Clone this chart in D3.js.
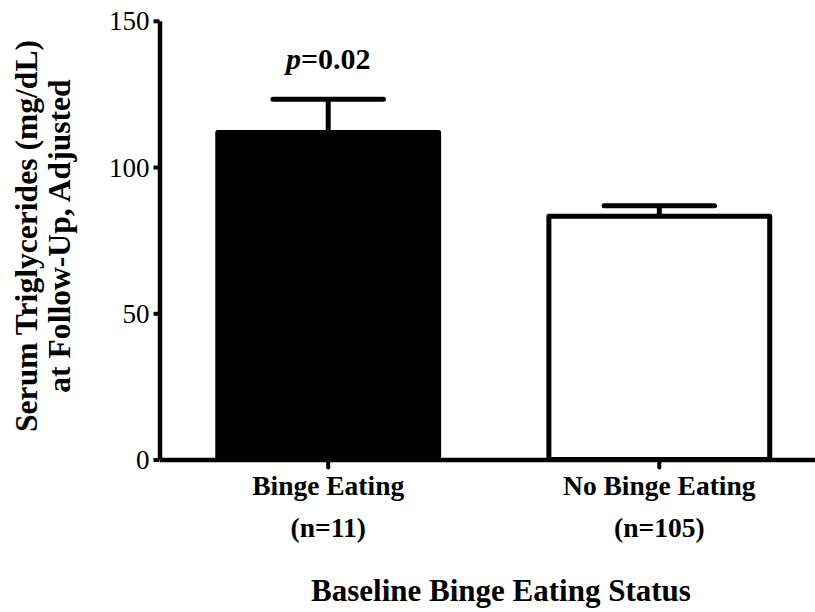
<!DOCTYPE html>
<html><head><meta charset="utf-8">
<script src="https://cdn.jsdelivr.net/npm/d3@7"></script>
<style>body{margin:0;background:#fff}svg{display:block}</style>
</head><body><svg id="c" width="815" height="612"></svg>
<script>
// ---- data ----
const categories = ["Binge Eating", "No Binge Eating"];
const sampleSizes = ["(n=11)", "(n=105)"];
const means = [111.8, 83.2];
const errorTops = [123.2, 86.8];
const barFills = ["#000000", "#ffffff"];
const yTicks = [0, 50, 100, 150];
const yTitleLines = ["Serum Triglycerides (mg/dL)", "at Follow-Up, Adjusted"];
const xTitle = "Baseline Binge Eating Status";
const pLabelItalic = "p";
const pLabelRest = "=0.02";

// ---- layout ----
const FONT = "'Liberation Serif','Times New Roman',Times,serif";
const svg = d3.select("#c");
const x = d3.scaleBand().domain(categories).range([159.5, 828]).paddingInner(0.333).paddingOuter(0.176);
const y = d3.scaleLinear().domain([0, 150]).range([459.5, 20.8]);
const bw = x.bandwidth();
const rows = categories.map((c, i) => ({c, n: sampleSizes[i], m: means[i], e: errorTops[i], f: barFills[i]}));

// error bars (behind bars)
const eb = svg.append("g").attr("stroke", "#000").attr("stroke-width", 5).attr("stroke-linecap", "round");
eb.selectAll("line.stem").data(rows).join("line").attr("class", "stem")
  .attr("x1", d => x(d.c) + bw / 2).attr("x2", d => x(d.c) + bw / 2)
  .attr("y1", d => y(d.m)).attr("y2", d => y(d.e)).attr("stroke-linecap", "butt");
eb.selectAll("line.cap").data(rows).join("line").attr("class", "cap")
  .attr("x1", d => x(d.c) + bw / 2 - bw * 0.25).attr("x2", d => x(d.c) + bw / 2 + bw * 0.25)
  .attr("y1", d => y(d.e)).attr("y2", d => y(d.e));

// bars
svg.append("g").selectAll("rect").data(rows).join("rect")
  .attr("x", d => x(d.c)).attr("width", bw)
  .attr("y", d => y(d.m)).attr("height", d => y(0) - y(d.m))
  .attr("fill", d => d.f).attr("stroke", "#000").attr("stroke-width", 5).attr("stroke-linejoin", "round");

// y axis
const ya = svg.append("g").attr("transform", "translate(159.5,0)")
  .call(d3.axisLeft(y).tickValues(yTicks).tickFormat(d3.format("d")).tickSize(6).tickSizeOuter(0).tickPadding(4));
ya.select(".domain").attr("stroke-width", 4.5);
ya.selectAll(".tick line").attr("stroke-width", 4);
ya.selectAll(".tick text").attr("font-family", FONT).attr("font-size", 27).attr("fill", "#000").attr("dy", "0.34em");

// x axis
const xa = svg.append("g").attr("transform", `translate(0,${y(0)})`)
  .call(d3.axisBottom(x).tickSize(8).tickSizeOuter(0));
xa.select(".domain").attr("stroke-width", 4.5);
xa.selectAll(".tick line").attr("stroke-width", 4).attr("stroke-linecap", "round");
xa.selectAll(".tick text").remove();

// category labels
const cl = svg.append("g").attr("font-family", FONT).attr("font-weight", "bold").attr("font-size", 27.5).attr("text-anchor", "middle");
cl.selectAll("text.cat").data(rows).join("text").attr("class", "cat")
  .attr("x", d => x(d.c) + bw / 2).attr("y", 495).text(d => d.c);
cl.selectAll("text.n").data(rows).join("text").attr("class", "n")
  .attr("x", d => x(d.c) + bw / 2).attr("y", 537).text(d => d.n);

// x title
svg.append("text").attr("x", 501).attr("y", 601).attr("text-anchor", "middle")
  .attr("font-family", FONT).attr("font-weight", "bold").attr("font-size", 31).text(xTitle);

// y title
const yt = svg.append("text").attr("transform", "translate(0,236) rotate(-90)").attr("text-anchor", "middle")
  .attr("font-family", FONT).attr("font-weight", "bold").attr("font-size", 31.6);
yt.selectAll("tspan").data(yTitleLines).join("tspan")
  .attr("x", 0).attr("y", (d, i) => 37 + i * 33).text(d => d);

// p label
const pl = svg.append("text").attr("x", x(categories[0]) + bw / 2).attr("y", 68.5).attr("text-anchor", "middle")
  .attr("font-family", FONT).attr("font-weight", "bold").attr("font-size", 30);
pl.append("tspan").attr("font-style", "italic").text(pLabelItalic);
pl.append("tspan").text(pLabelRest);
</script></body></html>
